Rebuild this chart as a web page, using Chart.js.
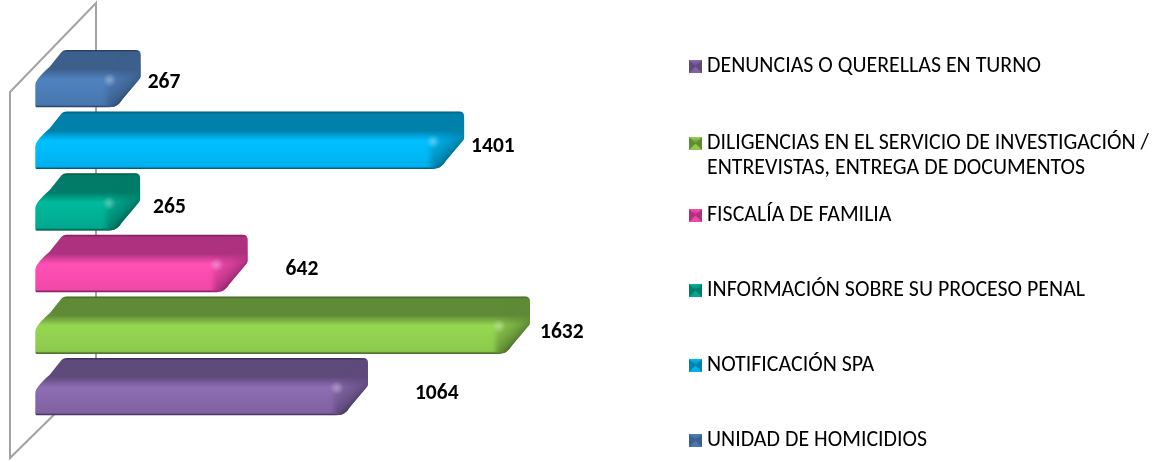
<!DOCTYPE html>
<html><head><meta charset="utf-8">
<style>html,body{margin:0;padding:0;background:#fff}#w{position:relative;width:1157px;height:462px}</style>
<script src="https://cdn.jsdelivr.net/npm/chart.js@4/dist/chart.umd.min.js"></script>
</head><body><div id="w"><canvas id="c" width="1157" height="462"></canvas></div>
<script>
const categories = [
  "DENUNCIAS O QUERELLAS EN TURNO",
  "DILIGENCIAS EN EL SERVICIO DE INVESTIGACIÓN / ENTREVISTAS, ENTREGA DE DOCUMENTOS",
  "FISCALÍA DE FAMILIA",
  "INFORMACIÓN SOBRE SU PROCESO PENAL",
  "NOTIFICACIÓN SPA",
  "UNIDAD DE HOMICIDIOS"
];
const values = [1064, 1632, 642, 265, 1401, 267];

// appearance
const frontCols = ["#8c6cb2", "#95d651", "#ff4fb4", "#00b89c", "#00bfff", "#4f81bd"];
const lowCols   = ["#7f62a0", "#8cc94c", "#f048a6", "#00a88e", "#00b0ec", "#4876ae"];
const topCols   = ["#5f4a7c", "#5f8a36", "#ae3180", "#007c68", "#0081ab", "#3c5f8c"];
const darkCols  = ["#3a2b50", "#3f5e20", "#7a1c58", "#004f42", "#00597a", "#233c5e"];
const labelDx = [47, 10, 38, 13, 7, 7];
const labelDy = [-7, -6.5, -8, -8.5, -7, -9.5];
const legendLines = [
  ["DENUNCIAS O QUERELLAS EN TURNO"],
  ["DILIGENCIAS EN EL SERVICIO DE INVESTIGACIÓN /", "ENTREVISTAS, ENTREGA DE DOCUMENTOS"],
  ["FISCALÍA DE FAMILIA"],
  ["INFORMACIÓN SOBRE SU PROCESO PENAL"],
  ["NOTIFICACIÓN SPA"],
  ["UNIDAD DE HOMICIDIOS"]
];
const legendY = [65, 142, 214, 289, 364, 439];
const FONT = "Carlito, Lato, sans-serif";
const DX = 29, DY = 28, H = 29;

function silhouette(ctx, x0, x1, cy) {
  const fb = cy + H / 2, ft = cy - H / 2, top = ft - DY;
  const bx = x1 + DX;
  ctx.beginPath();
  ctx.moveTo(x0 + 1.5, fb);
  ctx.quadraticCurveTo(x0, fb, x0, fb - 1.5);
  ctx.lineTo(x0, ft + 8);
  ctx.bezierCurveTo(x0, ft + 2, x0 + 5, ft - 3, x0 + 14, ft - 11);
  ctx.lineTo(x0 + 26, top + 2);
  ctx.quadraticCurveTo(x0 + 28, top, x0 + 31, top);
  ctx.lineTo(bx - 5, top);
  ctx.quadraticCurveTo(bx, top, bx, top + 5);
  ctx.lineTo(bx, ft - 2);
  ctx.quadraticCurveTo(bx, ft, bx - 2, ft + 2);
  ctx.lineTo(x1 + 11, fb - 8);
  ctx.quadraticCurveTo(x1 + 6, fb, x1, fb);
  ctx.closePath();
}
function bodyGrad(ctx, cy, i) {
  const fb = cy + H / 2, ft = cy - H / 2, top = ft - DY, t = fb - top;
  const g = ctx.createLinearGradient(0, top, 0, fb);
  const p = y => (y - top) / t;
  g.addColorStop(0, darkCols[i]);
  g.addColorStop(p(top + 2.5), topCols[i]);
  g.addColorStop(p(ft - 9), topCols[i]);
  g.addColorStop(p(ft + 1), frontCols[i]);
  g.addColorStop(p(ft + 5), frontCols[i]);
  g.addColorStop(p(fb - 2), lowCols[i]);
  g.addColorStop(1, darkCols[i]);
  return g;
}

const threeD = {
  id: "threeD",
  beforeDatasetsDraw(chart) {
    const ctx = chart.ctx, a = chart.chartArea;
    ctx.save();
    ctx.strokeStyle = "#a3a3a3"; ctx.lineWidth = 2;
    ctx.beginPath();
    ctx.moveTo(a.left + 60.5, a.bottom - 58);
    ctx.lineTo(a.left + 60.5, 3);
    ctx.lineTo(a.left - 25.5, 92);
    ctx.lineTo(a.left - 25.5, 458);
    ctx.lineTo(a.left + 60.5, a.bottom - 58);
    ctx.stroke();
    ctx.restore();
    chart.getDatasetMeta(0).data.forEach((el, i) => {
      ctx.save();
      silhouette(ctx, el.base, el.x, el.y);
      ctx.fillStyle = bodyGrad(ctx, el.y, i);
      ctx.fill();
      ctx.restore();
    });
  },
  afterDatasetsDraw(chart) {
    const ctx = chart.ctx;
    chart.getDatasetMeta(0).data.forEach((el, i) => {
      const x1 = el.x, cy = el.y, ft = cy - H / 2, fb = cy + H / 2, top = ft - DY, bx = x1 + DX;
      ctx.save();
      silhouette(ctx, el.base, x1, cy);
      ctx.clip();
      const g = ctx.createLinearGradient(x1, ft, x1 + 18, ft + 18);
      g.addColorStop(0, topCols[i] + "40");
      g.addColorStop(0.45, topCols[i] + "90");
      g.addColorStop(0.8, topCols[i]);
      g.addColorStop(1, darkCols[i]);
      ctx.filter = "blur(2.5px)";
      ctx.fillStyle = g;
      ctx.beginPath();
      ctx.moveTo(x1 - 5, fb + 5);
      ctx.lineTo(x1 - 5, ft + 5);
      ctx.quadraticCurveTo(x1 - 3, ft + 1, x1 + 1, ft - 3);
      ctx.lineTo(x1 + DX - 7, top - 3);
      ctx.lineTo(bx + 5, top - 3);
      ctx.lineTo(bx + 5, fb + 5);
      ctx.closePath();
      ctx.fill();
      ctx.filter = "none";
      const r = ctx.createRadialGradient(x1 - 2, ft + 2, 0, x1 - 2, ft + 2, 7);
      r.addColorStop(0, "rgba(255,255,255,.32)");
      r.addColorStop(1, "rgba(255,255,255,0)");
      ctx.fillStyle = r;
      ctx.fillRect(x1 - 10, ft - 6, 18, 16);
      ctx.restore();
    });
  },
  afterDraw(chart) {
    const ctx = chart.ctx;
    ctx.save();
    ctx.fillStyle = "#000";
    ctx.font = "bold 21.5px " + FONT;
    ctx.textAlign = "left"; ctx.textBaseline = "middle";
    chart.getDatasetMeta(0).data.forEach((el, i) => {
      ctx.fillText(String(values[i]), el.x + DX + labelDx[i], el.y + labelDy[i]);
    });
    legendLines.forEach((lines, i) => {
      const y = legendY[i], s = 13, x = 689, t = y - 5;
      const tri = (c, pts) => { ctx.fillStyle = c; ctx.beginPath(); pts.forEach((p, k) => k ? ctx.lineTo(p[0], p[1]) : ctx.moveTo(p[0], p[1])); ctx.closePath(); ctx.fill(); };
      const mx = x + s / 2, my = t + s / 2;
      const gt = ctx.createLinearGradient(0, t, 0, my);
      gt.addColorStop(0, frontCols[i]); gt.addColorStop(1, topCols[i]);
      tri(topCols[i], [[x, t], [x + s, t], [x + s, t + s], [x, t + s]]);
      tri(gt, [[x, t], [x + s, t], [mx, my]]);
      tri(lowCols[i], [[x, t + s], [x + s, t + s], [mx, my]]);
      ctx.fillStyle = "#000";
      ctx.font = "21.9px " + FONT;
      lines.forEach((ln, k) => ctx.fillText(ln, 707, y + 2 + k * 25));
    });
    ctx.restore();
  }
};

new Chart(document.getElementById("c"), {
  type: "bar",
  data: {
    labels: categories,
    datasets: [{
      data: values,
      barThickness: H,
      borderWidth: 0,
      borderSkipped: false,
      borderRadius: { topLeft: 8, bottomLeft: 1.5, topRight: 0, bottomRight: 2 },
      backgroundColor(c) {
        const area = c.chart.chartArea;
        if (!area) return frontCols[c.dataIndex];
        const cy = c.chart.scales.y.getPixelForValue(c.dataIndex);
        return bodyGrad(c.chart.ctx, cy, c.dataIndex);
      }
    }]
  },
  options: {
    indexAxis: "y",
    responsive: false,
    animation: false,
    layout: { padding: { left: 35.5, top: 61.7, bottom: 30.7, right: 608.1 } },
    plugins: { legend: { display: false }, tooltip: { enabled: false } },
    scales: {
      x: { display: false, min: 0, max: 1800 },
      y: { display: false, reverse: true }
    }
  },
  plugins: [threeD]
});
</script></body></html>
